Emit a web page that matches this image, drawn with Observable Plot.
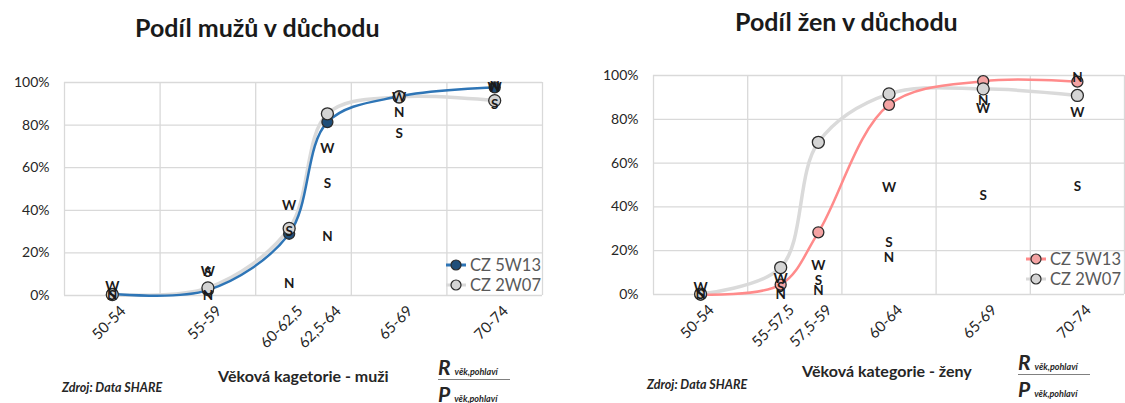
<!DOCTYPE html>
<html><head><meta charset="utf-8">
<script src="https://cdn.jsdelivr.net/npm/d3@7"></script>
<script src="https://cdn.jsdelivr.net/npm/@observablehq/plot@0.6"></script>
<style>
body{margin:0;background:#fff;font-family:Lato,"Open Sans",sans-serif;}
#root{position:relative;width:1125px;height:403px;overflow:hidden;background:#fff}
.abs{position:absolute;white-space:nowrap;line-height:1}
.title{font-weight:bold;font-size:25px;color:#1a1a1a}
.axtitle{font-weight:bold;font-size:16px;color:#262626}
.src{font-weight:bold;font-style:italic;font-size:12.5px;color:#262626}
.legend{font-size:16.5px;color:#595959}
.legend div{height:20px;display:flex;align-items:center}
.legend svg{margin-right:3px}
.formula{color:#262626}
.formula .big{font-weight:bold;font-style:italic;font-size:21px}
.formula .sub{font-style:italic;font-weight:bold;font-size:9px;margin-left:4px}
.formula .bar{height:1px;background:#808080;width:72px;margin:2px 0 3px 0}
svg.plot{position:absolute;top:0}
</style></head><body><div id="root"></div>
<script>
// ---- data ----
const gridX = [49.5, 54.5, 59.5, 64.5, 69.5, 74.5];
const yTicks = [0, 0.2, 0.4, 0.6, 0.8, 1];

const menLabels = ["50-54", "55-59", "60-62,5", "62,5-64", "65-69", "70-74"];
const menAges   = [52, 57, 61.25, 63.25, 67, 72];
const men5W13   = [0.008, 0.025, 0.29, 0.814, 0.935, 0.977];
const men2W07   = [0.004, 0.036, 0.315, 0.853, 0.932, 0.915];
const menW      = [0.043, 0.113, 0.423, 0.687, 0.927, 0.975];
const menS      = [0.0, 0.108, 0.30, 0.524, 0.76, 0.896];
const menN      = [0.0, 0.0, 0.056, 0.276, 0.857, 0.98];

const womenLabels = ["50-54", "55-57,5", "57,5-59", "60-64", "65-69", "70-74"];
const womenAges   = [52, 56.25, 58.25, 62, 67, 72];
const women5W13   = [0.0, 0.045, 0.284, 0.866, 0.974, 0.972];
const women2W07   = [0.002, 0.123, 0.695, 0.916, 0.939, 0.909];
const womenW      = [0.03, 0.07, 0.13, 0.49, 0.848, 0.832];
const womenS      = [0.0, 0.03, 0.064, 0.238, 0.451, 0.492];
const womenN      = [0.0, 0.0, 0.018, 0.169, 0.886, 0.99];

const seriesNames = ["CZ 5W13", "CZ 2W07"];

function makeChart(o) {
  const d1 = o.ages.map((x, i) => ({x, y: o.s1[i]}));
  const d2 = o.ages.map((x, i) => ({x, y: o.s2[i]}));
  const letters = [];
  o.ages.forEach((x, i) => {
    letters.push({x, y: o.N[i], t: "N"});
    letters.push({x, y: o.S[i], t: "S"});
    letters.push({x, y: o.W[i], t: "W"});
  });
  const svg = Plot.plot({
    width: o.width, height: 403,
    marginLeft: o.ml, marginRight: o.mr, marginTop: o.mt, marginBottom: o.mb,
    style: {fontFamily: "Lato, 'Open Sans', sans-serif", fontSize: "14px", color: "#262626", background: "transparent", overflow: "visible"},
    x: {domain: [gridX[0], gridX[gridX.length - 1]]},
    y: {domain: [0, 1]},
    marks: [
      Plot.ruleY(yTicks, {stroke: "#d9d9d9", strokeWidth: 1.3}),
      Plot.ruleX(gridX, {stroke: "#d9d9d9", strokeWidth: 1.3}),
      Plot.line(d2, {x: "x", y: "y", stroke: "#dadada", strokeWidth: 3.5, curve: "catmull-rom"}),
      Plot.line(d1, {x: "x", y: "y", stroke: o.line1, strokeWidth: 2.5, curve: "catmull-rom"}),
      Plot.dot(d1, {x: "x", y: "y", r: 5.5, fill: o.fill1, stroke: "#2b2b2b", strokeWidth: 1.3}),
      Plot.dot(d2, {x: "x", y: "y", r: 6, fill: "#d4d4d4", stroke: "#2b2b2b", strokeWidth: 1.3}),
      Plot.text(letters, {x: "x", y: "y", text: "t", fontWeight: "bold", fontSize: 13.5, fill: "#1a1a1a"}),
      Plot.axisY({ticks: yTicks, tickFormat: d3.format(".0%"), tickSize: 0, tickPadding: 15, label: null, fontSize: 14}),
      Plot.axisX({ticks: o.ages, tickFormat: d => o.labels[o.ages.indexOf(d)], tickRotate: -45, tickSize: 0, tickPadding: 13, dx: 11, label: null, fontSize: 15})
    ]
  });
  svg.classList.add("plot");
  svg.style.left = o.left + "px";
  return svg;
}

const root = document.getElementById("root");
root.appendChild(makeChart({
  ages: menAges, labels: menLabels, s1: men5W13, s2: men2W07, W: menW, S: menS, N: menN,
  line1: "#2e75b6", fill1: "#1f4e79",
  width: 562, ml: 64, mr: 20, mt: 82, mb: 108, left: 0
}));
root.appendChild(makeChart({
  ages: womenAges, labels: womenLabels, s1: women5W13, s2: women2W07, W: womenW, S: womenS, N: womenN,
  line1: "#ff8b8b", fill1: "#f4a3a3",
  width: 563, ml: 91, mr: 1, mt: 75, mb: 109, left: 562
}));

function addDiv(cls, html, left, top) {
  const d = document.createElement("div");
  d.className = "abs " + cls;
  d.innerHTML = html;
  d.style.left = left + "px";
  d.style.top = top + "px";
  root.appendChild(d);
  return d;
}
function sym(line, fill) {
  return `<svg width="22" height="14"><line x1="1" y1="7" x2="21" y2="7" stroke="${line}" stroke-width="3"/><circle cx="11" cy="7" r="5" fill="${fill}" stroke="#2b2b2b" stroke-width="1.2"/></svg>`;
}
addDiv("title", "Podíl mužů v důchodu", 135, 15);
addDiv("title", "Podíl žen v důchodu", 735, 9);
addDiv("axtitle", "Věková kagetorie - muži", 218, 368);
addDiv("axtitle", "Věková kategorie - ženy", 802, 363);
addDiv("src", "Zdroj: Data SHARE", 62, 382);
addDiv("src", "Zdroj: Data SHARE", 647, 379);
addDiv("legend", `<div>${sym("#2e75b6", "#1f4e79")}${seriesNames[0]}</div><div>${sym("#d9d9d9", "#d4d4d4")}${seriesNames[1]}</div>`, 445, 255);
addDiv("legend", `<div>${sym("#ff8b8b", "#f4a3a3")}${seriesNames[0]}</div><div>${sym("#d9d9d9", "#d4d4d4")}${seriesNames[1]}</div>`, 1025, 249);
const formula = `<div><span class="big">R</span><span class="sub">věk,pohlaví</span></div><div class="bar"></div><div><span class="big">P</span><span class="sub">věk,pohlaví</span></div>`;
addDiv("formula", formula, 438, 356);
addDiv("formula", formula, 1018, 351);
</script>
</body></html>
